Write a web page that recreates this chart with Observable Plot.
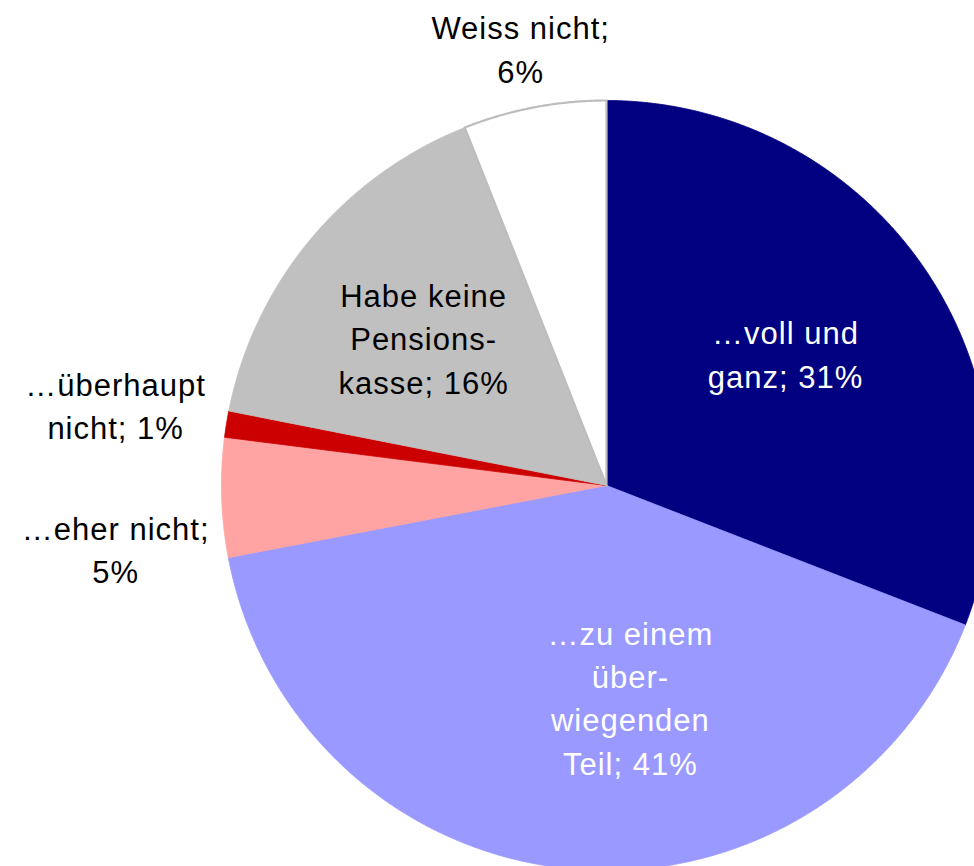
<!DOCTYPE html>
<html>
<head>
<meta charset="utf-8">
<script src="https://cdn.jsdelivr.net/npm/d3@7"></script>
<script src="https://cdn.jsdelivr.net/npm/@observablehq/plot@0.6"></script>
<style>
  html, body { margin: 0; padding: 0; background: #fff; }
  #chart { width: 974px; height: 866px; overflow: hidden; }
</style>
</head>
<body>
<div id="chart"></div>
<script>
// ---- data (clockwise from 12 o'clock) ----
const categories = ["…voll und ganz", "…zu einem überwiegenden Teil", "…eher nicht", "…überhaupt nicht", "Habe keine Pensionskasse", "Weiss nicht"];
const shares = [30.9, 41.1, 5.0, 1.1, 15.9, 6.0];
const labelTexts = ["…voll und\nganz;", "…zu einem\nüber-\nwiegenden\nTeil;", "…eher nicht;\n", "…überhaupt\nnicht;", "Habe keine\nPensions-\nkasse;", "Weiss nicht;\n"];
const sliceColors = ["#000080", "#9999FF", "#FFA3A3", "#CC0000", "#C0C0C0", "#FFFFFF"];
const labelColors = ["#FFFFFF", "#FFFFFF", "#000000", "#000000", "#000000", "#000000"];
// label anchor positions in pie-radius units (layout)
const labelX = [0.465, 0.062, -1.275, -1.275, -0.475, -0.223];
const labelY = [0.346, -0.546, -0.161, 0.213, 0.387, 1.139];

// ---- build slice polygons from the shares ----
const pie = d3.pie().sort(null).value(d => d)(shares);
const polys = [];
pie.forEach((p, i) => {
  const n = Math.max(2, Math.ceil((p.endAngle - p.startAngle) / 0.005));
  polys.push({slice: categories[i], x: 0, y: 0});
  for (let k = 0; k <= n; k++) {
    const a = p.startAngle + (p.endAngle - p.startAngle) * k / n;
    polys.push({slice: categories[i], x: Math.sin(a), y: Math.cos(a)});
  }
  polys.push({slice: categories[i], x: 0, y: 0});
});
const whiteName = categories[5];
const whiteOutline = polys.filter(d => d.slice === whiteName);

const labels = categories.map((c, i) => {
  const pct = Math.round(shares[i]) + "%";
  const t = labelTexts[i];
  return {
    slice: c,
    text: t.endsWith("\n") ? t + pct : t + " " + pct,
    x: labelX[i], y: labelY[i], color: labelColors[i]
  };
});

const chart = Plot.plot({
  width: 974,
  height: 866,
  margin: 0,
  x: {domain: [-1, 1], range: [221, 991], axis: null},
  y: {domain: [-1, 1], range: [870, 100], axis: null},
  color: {domain: categories, range: sliceColors},
  style: {fontFamily: "'Liberation Sans', Arial, sans-serif", background: "#fff", letterSpacing: "1px"},
  marks: [
    Plot.line(polys, {x: "x", y: "y", z: "slice", fill: "slice", stroke: "slice", strokeWidth: 0.8, curve: "linear"}),
    Plot.line(whiteOutline, {x: "x", y: "y", stroke: "#BDBDBD", strokeWidth: 2.2, curve: "linear"}),
    Plot.text(labels, {x: "x", y: "y", text: "text", fill: d => d.color, fontSize: 31, lineHeight: 1.4, textAnchor: "middle"})
  ]
});
document.getElementById("chart").appendChild(chart);
</script>
</body>
</html>
